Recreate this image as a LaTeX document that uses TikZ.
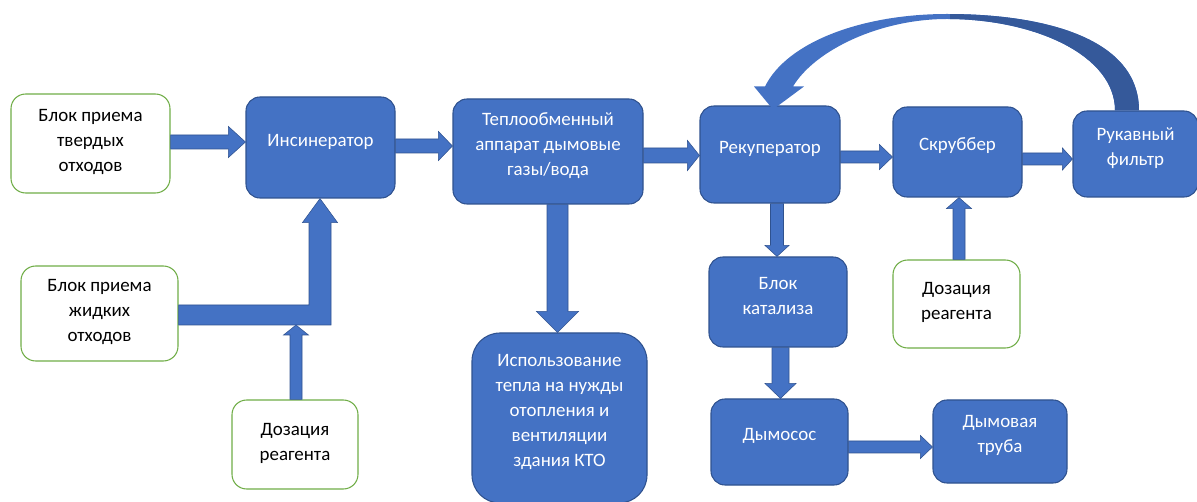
\documentclass[tikz,border=0pt]{standalone}
\usepackage{fontspec}
\setmainfont{Carlito}
\usetikzlibrary{calc}

\definecolor{boxblue}{HTML}{4472C4}
\definecolor{boxedge}{HTML}{2F528F}
\definecolor{feedgreen}{HTML}{70AD47}
\definecolor{curvedark}{HTML}{35599A}

% block arrows between two anchors (all sizes in px)
% #1 start anchor, #2 end anchor, #3 axis, #4 half shaft, #5 half head, #6 head length
\newcommand\flowright[6]{%
  \coordinate (fl-axis) at (0,#3);
  \coordinate (fa) at (#1 |- fl-axis);
  \coordinate (fb) at (#2 |- fl-axis);
  \filldraw[flow] ($(fa)+(0,-#4)$) -- ($(fb)+(-#6,-#4)$) -- ($(fb)+(-#6,-#5)$) -- (fb)
    -- ($(fb)+(-#6,#5)$) -- ($(fb)+(-#6,#4)$) -- ($(fa)+(0,#4)$) -- cycle;
}
\newcommand\flowdown[6]{%
  \coordinate (fl-axis) at (#3,0);
  \coordinate (fa) at (#1 -| fl-axis);
  \coordinate (fb) at (#2 -| fl-axis);
  \filldraw[flow] ($(fa)+(-#4,0)$) -- ($(fb)+(-#4,-#6)$) -- ($(fb)+(-#5,-#6)$) -- (fb)
    -- ($(fb)+(#5,-#6)$) -- ($(fb)+(#4,-#6)$) -- ($(fa)+(#4,0)$) -- cycle;
}
\newcommand\flowup[6]{%
  \coordinate (fl-axis) at (#3,0);
  \coordinate (fa) at (#1 -| fl-axis);
  \coordinate (fb) at (#2 -| fl-axis);
  \filldraw[flow] ($(fa)+(-#4,0)$) -- ($(fb)+(-#4,#6)$) -- ($(fb)+(-#5,#6)$) -- (fb)
    -- ($(fb)+(#5,#6)$) -- ($(fb)+(#4,#6)$) -- ($(fa)+(#4,0)$) -- cycle;
}
% feedback arrow from the filter back to the recuperator
\newcommand\backflowpath{%
  (rs) .. controls ($(rs)+(0,-72)$) and (1045,14) .. (947,14)
  .. controls (862,14) and (787,42) .. ($(tip)+(-8,-23)$)
  -- ($(tip)+(-19,-23)$) -- (tip) -- ($(tip)+(31,-23)$) -- ($(tip)+(20,-23)$)
  .. controls (815,50) and (880,19) .. (947,19)
  .. controls (1035,19) and ($(rs)+(-24,-55)$) .. ($(rs)+(-24,0)$) -- cycle}

\begin{document}
\begin{tikzpicture}[
    x=0.75pt, y=-0.75pt,
    blockbox/.style={rectangle, rounded corners=10.5pt, fill=boxblue, draw=boxedge, line width=0.8pt, inner sep=0pt},
    inputbox/.style={rectangle, rounded corners=11pt, fill=white, draw=feedgreen, line width=0.8pt, inner sep=0pt},
    size/.style 2 args={minimum width=#1*0.75pt, minimum height=#2*0.75pt},
    whitetext/.style={align=center, text=white, font=\fontsize{14.2}{18.6}\selectfont, yshift=4.5pt},
    darktext/.style={align=center, text=black, font=\fontsize{14.2}{18.6}\selectfont, yshift=1pt},
    flow/.style={fill=boxblue, draw=boxedge, line width=0.4pt, line join=miter}
]
\useasboundingbox (0,0) rectangle (1197,502);

% Input blocks
\node[inputbox, size={159}{99}, label={[darktext]center:{Блок приема\\твердых\\отходов}}] (solid) at (90.5,143.5) {};
\node[inputbox, size={157}{95}, label={[darktext]center:{Блок приема\\жидких\\отходов}}] (liquid) at (99.5,313.5) {};
\node[inputbox, size={126}{89}, label={[darktext]center:{Дозация\\реагента}}] (dose1) at (295,444.5) {};
\node[inputbox, size={127}{88}, label={[darktext]center:{Дозация\\реагента}}] (dose2) at (956.5,304) {};

% Process blocks
\node[blockbox, size={149}{101}, label={[whitetext]center:Инсинератор}] (insin) at (320.5,147.5) {};
\node[blockbox, size={190}{105}, label={[whitetext]center:{Теплообменный\\аппарат дымовые\\газы/вода}}] (heatx) at (548,151.5) {};
\node[blockbox, size={140}{97}, label={[whitetext]center:Рекуператор}] (recup) at (770,154.5) {};
\node[blockbox, size={129}{90}, label={[whitetext]center:Скруббер}] (scrub) at (957.5,152) {};
\node[blockbox, size={125}{86}, label={[whitetext]center:{Рукавный\\фильтр}}] (filter) at (1135.5,154) {};
\node[blockbox, rounded corners=21pt, size={175}{170}, label={[whitetext]center:{Использование\\тепла на нужды\\отопления и\\вентиляции\\здания КТО}}] (heatuse) at (559.5,418) {};
\node[blockbox, size={138}{90}, label={[whitetext]center:{Блок\\катализа}}] (catal) at (778,302) {};
\node[blockbox, size={137}{86}, label={[whitetext]center:Дымосос}] (fan) at (779.5,442) {};
\node[blockbox, size={134}{83}, label={[whitetext]center:{Дымовая\\труба}}] (stack) at (1000,441.5) {};

% Main line
\flowright{solid.east}{insin.west}{142}{7}{15.5}{17}
\flowright{insin.east}{heatx.west}{146}{7}{14.5}{14}
\flowright{heatx.east}{recup.west}{155.5}{7.5}{15}{12}
\flowright{recup.east}{scrub.west}{157}{6}{12.5}{13}
\flowright{scrub.east}{filter.west}{159}{6}{11}{10}
\flowdown{heatx.south}{heatuse.north}{557.5}{10.5}{21}{21}
\flowdown{recup.south}{catal.north}{777}{6.5}{12}{11}
\flowdown{catal.south}{fan.north}{780.5}{8.5}{15.5}{15}
\flowright{fan.east}{stack.west}{447}{6}{11.5}{12}
\flowup{dose2.north}{scrub.south}{959}{6}{12.5}{11}

% Liquid waste line into the incinerator
\coordinate (elbow) at (320,315);
\coordinate (le) at (liquid.east |- elbow);
\coordinate (lt) at (insin.south -| elbow);
\coordinate (lbot) at ($(elbow)+(0,10)$);
\filldraw[flow] ($(le)+(0,-10)$) -- ($(elbow)+(-11,-10)$) -- ($(lt)+(-11,24)$) -- ($(lt)+(-17.5,24)$) -- (lt)
  -- ($(lt)+(17.5,24)$) -- ($(lt)+(11,24)$) -- ($(elbow)+(11,10)$) -- ($(le)+(0,10)$) -- cycle;
\flowup{dose1.north}{lbot}{296}{6}{12.5}{10}

% Feedback from the filter
\coordinate (rs) at ($(filter.north)+(3.5,0)$);
\coordinate (tip) at ($(recup.north)+(3,4)$);
\fill[boxblue] \backflowpath;
\begin{scope}
  \clip (950,0) rectangle (1197,120);
  \fill[curvedark] \backflowpath;
\end{scope}
\end{tikzpicture}
\end{document}
